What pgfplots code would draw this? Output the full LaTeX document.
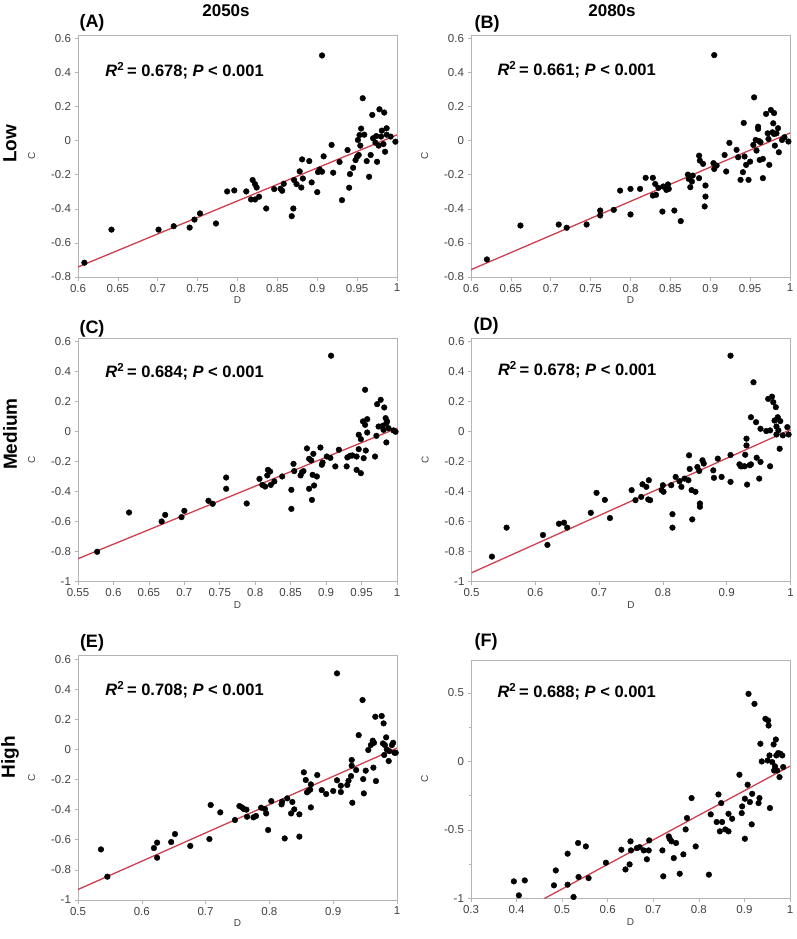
\documentclass[border=0pt]{standalone}
\usepackage{fontspec}
\setmainfont{Liberation Sans}
\usepackage{pgfplots}
\pgfplotsset{compat=1.18}
\definecolor{fitred}{RGB}{208,62,78}
\definecolor{axgray}{RGB}{180,180,180}
\definecolor{txtgray}{RGB}{65,65,65}
\pgfplotsset{
  panel/.style={
    scale only axis, width=319pt,
    axis line style={draw=axgray, line width=0.8pt},
    tick style={draw=axgray, line width=0.6pt},
    tick align=outside, major tick length=3.5pt, minor tick length=2pt,
    xtick pos=bottom, ytick pos=left,
    ticklabel style={font=\fontsize{11.5}{13}\selectfont, text=txtgray},
    /pgf/number format/assume math mode=true,
    xlabel={D}, ylabel={C},
    xlabel style={font=\fontsize{10}{12}\selectfont, text=txtgray, yshift=2pt},
    every axis y label/.style={at={(axis description cs:-0.145,0.5)}, rotate=90, anchor=center, font=\fontsize{10}{12}\selectfont, text=txtgray},
  },
  dots/.style={only marks, mark=*, mark size=2.85pt, draw=black, fill=black},
  fit/.style={no marks, draw=fitred, line width=1.3pt},
}
\newcommand{\rtext}[1]{\fontsize{16.5}{18}\selectfont\bfseries\textit{R}\textsuperscript{2}\,= #1; \textit{P} < 0.001}
\begin{document}
\begin{tikzpicture}
\useasboundingbox (0pt,0pt) rectangle (797pt,-939pt);
% titles
\node[font=\fontsize{17}{19}\selectfont\bfseries] at (226pt,-11pt) {2050s};
\node[font=\fontsize{17}{19}\selectfont\bfseries] at (612pt,-11pt) {2080s};
\node[font=\fontsize{19}{21}\selectfont\bfseries, rotate=90] at (10pt,-144pt) {Low};
\node[font=\fontsize{19}{21}\selectfont\bfseries, rotate=90] at (10pt,-434pt) {Medium};
\node[font=\fontsize{19}{21}\selectfont\bfseries, rotate=90] at (10pt,-757pt) {High};
\node[font=\fontsize{18}{20}\selectfont\bfseries] at (92pt,-23pt) {(A)};
\node[font=\fontsize{18}{20}\selectfont\bfseries] at (487pt,-24pt) {(B)};
\node[font=\fontsize{18}{20}\selectfont\bfseries] at (92pt,-329pt) {(C)};
\node[font=\fontsize{18}{20}\selectfont\bfseries] at (486pt,-326pt) {(D)};
\node[font=\fontsize{18}{20}\selectfont\bfseries] at (92pt,-643pt) {(E)};
\node[font=\fontsize{18}{20}\selectfont\bfseries] at (486pt,-642pt) {(F)};

% (A)
\begin{axis}[panel, at={(78pt,-35pt)}, anchor=north west, height=242pt,
  xmin=0.6, xmax=1, ymin=-0.8, ymax=0.62,
  xtick={0.6,0.65,0.7,0.75,0.8,0.85,0.9,0.95,1},
  ytick={-0.8,-0.6,-0.4,-0.2,0,0.2,0.4,0.6}]
\addplot[fit] coordinates {(0.6,-0.741) (1,0.034)};
\addplot[dots] coordinates {
(0.608,-0.716) (0.642,-0.522) (0.701,-0.522) (0.720,-0.502) (0.740,-0.510)
(0.746,-0.463) (0.753,-0.427) (0.773,-0.486) (0.787,-0.298) (0.796,-0.292)
(0.811,-0.298) (0.817,-0.345) (0.819,-0.231) (0.822,-0.345) (0.822,-0.255)
(0.824,-0.275) (0.827,-0.329) (0.836,-0.398) (0.846,-0.284) (0.854,-0.282)
(0.856,-0.294) (0.858,-0.253) (0.868,-0.443) (0.870,-0.398) (0.871,-0.231)
(0.874,-0.255) (0.878,-0.180) (0.880,-0.275) (0.881,-0.110) (0.882,-0.222)
(0.890,-0.120) (0.893,-0.245) (0.900,-0.302) (0.901,-0.184) (0.903,-0.169)
(0.906,-0.182) (0.906,0.500) (0.908,-0.092) (0.918,-0.025) (0.920,-0.188)
(0.928,-0.125) (0.931,-0.349) (0.938,-0.055) (0.940,-0.276) (0.941,-0.196)
(0.945,-0.159) (0.948,-0.114) (0.950,-0.094) (0.951,0.004) (0.952,-0.084)
(0.953,0.033) (0.954,-0.029) (0.955,0.071) (0.957,0.249) (0.959,0.035)
(0.962,-0.120) (0.965,-0.212) (0.967,-0.084) (0.969,0.151) (0.970,0.014)
(0.973,-0.012) (0.974,0.027) (0.975,-0.124) (0.977,-0.029) (0.978,0.184)
(0.980,0.024) (0.981,0.059) (0.983,-0.020) (0.984,0.165) (0.985,-0.065)
(0.987,0.073) (0.987,0.035) (0.992,0.024) (0.998,-0.006)
};
\node[anchor=west] at (rel axis cs:0.075,0.851) {\rtext{0.678}};
\end{axis}

% (B)
\begin{axis}[panel, at={(471pt,-35pt)}, anchor=north west, height=242pt,
  xmin=0.6, xmax=1, ymin=-0.8, ymax=0.62,
  xtick={0.6,0.65,0.7,0.75,0.8,0.85,0.9,0.95,1},
  ytick={-0.8,-0.6,-0.4,-0.2,0,0.2,0.4,0.6}]
\addplot[fit] coordinates {(0.6,-0.757) (1,0.045)};
\addplot[dots] coordinates {
(0.620,-0.697) (0.662,-0.498) (0.710,-0.492) (0.720,-0.511) (0.745,-0.492)
(0.762,-0.410) (0.762,-0.439) (0.779,-0.406) (0.787,-0.293) (0.800,-0.283)
(0.800,-0.433) (0.812,-0.283) (0.819,-0.218) (0.828,-0.218) (0.828,-0.322)
(0.831,-0.254) (0.832,-0.318) (0.835,-0.277) (0.840,-0.416) (0.841,-0.269)
(0.845,-0.289) (0.847,-0.257) (0.848,-0.283) (0.855,-0.410) (0.863,-0.472)
(0.872,-0.199) (0.873,-0.224) (0.875,-0.273) (0.877,-0.240) (0.878,-0.205)
(0.886,-0.088) (0.887,-0.117) (0.886,-0.220) (0.891,-0.136) (0.893,-0.386)
(0.894,-0.328) (0.894,-0.263) (0.905,0.502) (0.904,-0.132) (0.905,-0.166)
(0.908,-0.146) (0.918,-0.084) (0.920,-0.181) (0.924,-0.013) (0.933,-0.054)
(0.935,-0.097) (0.938,-0.230) (0.941,-0.185) (0.942,0.104) (0.943,-0.093)
(0.945,-0.142) (0.948,-0.230) (0.950,-0.123) (0.954,-0.025) (0.955,0.254)
(0.957,0.004) (0.958,-0.058) (0.960,0.082) (0.960,0.069) (0.961,-0.002)
(0.962,-0.113) (0.963,-0.009) (0.966,-0.107) (0.966,-0.220) (0.970,0.157)
(0.972,0.043) (0.973,0.010) (0.974,-0.142) (0.976,0.180) (0.978,0.049)
(0.979,0.102) (0.980,0.162) (0.980,0.039) (0.981,-0.029) (0.983,0.043)
(0.985,0.073) (0.986,-0.068) (0.990,0.004) (0.993,0.020) (0.998,-0.005)
};
\node[anchor=west] at (rel axis cs:0.072,0.855) {\rtext{0.661}};
\end{axis}

% (C)
\begin{axis}[panel, at={(78pt,-338pt)}, anchor=north west, height=243.5pt,
  xmin=0.55, xmax=1, ymin=-1, ymax=0.623,
  xtick={0.55,0.6,0.65,0.7,0.75,0.8,0.85,0.9,0.95,1},
  ytick={-1,-0.8,-0.6,-0.4,-0.2,0,0.2,0.4,0.6}]
\addplot[fit] coordinates {(0.55,-0.848) (1,0.022)};
\addplot[dots] coordinates {
(0.577,-0.802) (0.622,-0.540) (0.668,-0.600) (0.673,-0.556) (0.696,-0.571)
(0.700,-0.529) (0.734,-0.462) (0.740,-0.482) (0.759,-0.307) (0.759,-0.382)
(0.788,-0.480) (0.806,-0.316) (0.810,-0.356) (0.814,-0.367) (0.817,-0.293)
(0.818,-0.256) (0.821,-0.267) (0.822,-0.356) (0.827,-0.333) (0.838,-0.300)
(0.851,-0.389) (0.851,-0.516) (0.854,-0.216) (0.855,-0.264) (0.864,-0.293)
(0.866,-0.271) (0.868,-0.264) (0.873,-0.113) (0.876,-0.382) (0.876,-0.182)
(0.879,-0.193) (0.880,-0.456) (0.881,-0.289) (0.882,-0.149) (0.883,-0.360)
(0.887,-0.300) (0.892,-0.107) (0.894,-0.222) (0.895,-0.207) (0.901,-0.167)
(0.907,0.505) (0.906,-0.176) (0.913,-0.233) (0.918,-0.122) (0.929,-0.233)
(0.930,-0.173) (0.934,-0.162) (0.937,-0.160) (0.943,-0.167) (0.943,-0.256)
(0.946,-0.022) (0.946,-0.118) (0.949,-0.278) (0.949,-0.051) (0.952,0.067)
(0.953,-0.178) (0.955,0.278) (0.955,0.044) (0.956,-0.127) (0.958,0.082)
(0.958,-0.007) (0.969,-0.167) (0.971,-0.029) (0.972,0.182) (0.974,0.033)
(0.977,0.211) (0.980,0.038) (0.981,0.011) (0.982,0.160) (0.984,0.089)
(0.985,0.056) (0.985,-0.073) (0.986,0.067) (0.988,0.022) (0.995,0.007)
(0.998,-0.002)
};
\node[anchor=west] at (rel axis cs:0.075,0.862) {\rtext{0.684}};
\end{axis}

% (D)
\begin{axis}[panel, at={(471.5pt,-338pt)}, anchor=north west, height=243.5pt,
  xmin=0.5, xmax=1, ymin=-1, ymax=0.623,
  xtick={0.5,0.6,0.7,0.8,0.9,1},
  ytick={-1,-0.8,-0.6,-0.4,-0.2,0,0.2,0.4,0.6}]
\addplot[fit] coordinates {(0.5,-0.942) (1,0.012)};
\addplot[dots] coordinates {
(0.532,-0.834) (0.555,-0.641) (0.612,-0.690) (0.619,-0.756) (0.637,-0.615)
(0.645,-0.608) (0.650,-0.641) (0.687,-0.542) (0.696,-0.409) (0.709,-0.456)
(0.717,-0.577) (0.751,-0.391) (0.757,-0.458) (0.766,-0.436) (0.768,-0.352)
(0.774,-0.369) (0.777,-0.453) (0.778,-0.325) (0.780,-0.458) (0.798,-0.391)
(0.800,-0.358) (0.801,-0.402) (0.813,-0.358) (0.815,-0.551) (0.815,-0.641)
(0.820,-0.303) (0.826,-0.332) (0.829,-0.369) (0.834,-0.314) (0.840,-0.325)
(0.841,-0.159) (0.842,-0.250) (0.845,-0.391) (0.846,-0.586) (0.851,-0.402)
(0.854,-0.237) (0.857,-0.263) (0.858,-0.480) (0.858,-0.502) (0.862,-0.192)
(0.864,-0.214) (0.879,-0.259) (0.880,-0.309) (0.886,-0.181) (0.892,-0.303)
(0.906,0.505) (0.906,-0.157) (0.906,-0.336) (0.920,-0.219) (0.922,-0.232)
(0.924,-0.232) (0.928,-0.232) (0.929,-0.155) (0.931,-0.048) (0.931,-0.093)
(0.932,-0.354) (0.936,-0.225) (0.938,-0.219) (0.938,0.095) (0.942,0.328)
(0.946,0.062) (0.947,-0.175) (0.951,-0.314) (0.953,-0.203) (0.953,0.018)
(0.962,0.003) (0.965,0.217) (0.968,-0.232) (0.968,0.007) (0.971,0.232)
(0.973,0.195) (0.975,0.073) (0.977,0.162) (0.978,0.033) (0.978,-0.020)
(0.980,0.095) (0.981,0.007) (0.983,-0.115) (0.984,0.069) (0.988,-0.026)
(0.995,0.029) (0.997,-0.020)
};
\node[anchor=west] at (rel axis cs:0.072,0.870) {\rtext{0.678}};
\end{axis}

% (E)
\begin{axis}[panel, at={(78pt,-655pt)}, anchor=north west, height=245pt,
  xmin=0.5, xmax=1, ymin=-1, ymax=0.627,
  xtick={0.5,0.6,0.7,0.8,0.9,1},
  ytick={-1,-0.8,-0.6,-0.4,-0.2,0,0.2,0.4,0.6}]
\addplot[fit] coordinates {(0.5,-0.930) (1,0.009)};
\addplot[dots] coordinates {
(0.536,-0.664) (0.546,-0.845) (0.619,-0.655) (0.624,-0.619) (0.624,-0.719)
(0.646,-0.615) (0.652,-0.562) (0.676,-0.641) (0.706,-0.595) (0.708,-0.369)
(0.723,-0.418) (0.746,-0.469) (0.753,-0.376) (0.757,-0.385) (0.760,-0.396)
(0.764,-0.400) (0.765,-0.447) (0.775,-0.451) (0.779,-0.442) (0.787,-0.387)
(0.793,-0.396) (0.795,-0.425) (0.798,-0.535) (0.803,-0.343) (0.819,-0.365)
(0.820,-0.347) (0.824,-0.591) (0.828,-0.325) (0.834,-0.425) (0.836,-0.349)
(0.839,-0.398) (0.847,-0.431) (0.847,-0.579) (0.854,-0.152) (0.857,-0.203)
(0.859,-0.285) (0.861,-0.276) (0.864,-0.267) (0.865,-0.232) (0.865,-0.385)
(0.875,-0.170) (0.882,-0.270) (0.889,-0.296) (0.900,-0.276) (0.906,0.505)
(0.906,-0.205) (0.912,-0.241) (0.912,-0.283) (0.922,-0.236) (0.924,-0.208)
(0.928,-0.177) (0.929,-0.108) (0.929,-0.070) (0.930,-0.354) (0.936,-0.137)
(0.940,0.095) (0.946,0.328) (0.947,-0.197) (0.948,-0.292) (0.951,-0.141)
(0.955,-0.004) (0.959,0.029) (0.962,0.058) (0.963,-0.121) (0.964,0.044)
(0.966,0.217) (0.967,-0.210) (0.976,0.222) (0.978,0.040) (0.979,0.173)
(0.980,-0.037) (0.981,0.029) (0.983,0.080) (0.984,0.000) (0.987,-0.077)
(0.988,-0.011) (0.992,0.029) (0.994,0.044) (0.996,-0.022) (0.998,-0.022)
};
\node[anchor=west] at (rel axis cs:0.075,0.857) {\rtext{0.708}};
\end{axis}

% (F)
\begin{axis}[panel, at={(471pt,-660pt)}, anchor=north west, height=238.5pt,
  xmin=0.3, xmax=1, ymin=-1, ymax=0.74,
  xtick={0.3,0.4,0.5,0.6,0.7,0.8,0.9,1},
  ytick={-1,-0.5,0,0.5}, minor ytick={-0.75,-0.25,0.25}]
\addplot[fit] coordinates {(0.461,-1) (1,-0.034)};
\addplot[dots] coordinates {
(0.394,-0.875) (0.405,-0.977) (0.418,-0.868) (0.482,-0.904) (0.486,-0.795)
(0.512,-0.899) (0.512,-0.673) (0.525,-0.989) (0.535,-0.595) (0.536,-0.843)
(0.552,-0.620) (0.558,-0.851) (0.596,-0.739) (0.630,-0.644) (0.639,-0.788)
(0.648,-0.751) (0.650,-0.583) (0.651,-0.649) (0.664,-0.632) (0.670,-0.625)
(0.679,-0.649) (0.686,-0.714) (0.690,-0.649) (0.691,-0.576) (0.720,-0.649)
(0.722,-0.838) (0.734,-0.547) (0.736,-0.564) (0.740,-0.583) (0.745,-0.705)
(0.750,-0.595) (0.758,-0.819) (0.766,-0.678) (0.771,-0.496) (0.774,-0.413)
(0.784,-0.267) (0.793,-0.620) (0.822,-0.826) (0.826,-0.386) (0.839,-0.442)
(0.843,-0.241) (0.846,-0.510) (0.849,-0.304) (0.851,-0.442) (0.858,-0.496)
(0.865,-0.510) (0.865,-0.382) (0.873,-0.418) (0.889,-0.097) (0.894,-0.377)
(0.895,-0.328) (0.901,-0.564) (0.901,-0.272) (0.907,-0.170) (0.909,0.493)
(0.912,-0.296) (0.916,-0.459) (0.917,-0.236) (0.922,0.420) (0.931,-0.304)
(0.933,-0.267) (0.935,0.129) (0.938,0.000) (0.946,0.311) (0.951,0.007)
(0.952,0.299) (0.953,0.262) (0.955,0.044) (0.956,-0.340) (0.961,-0.005)
(0.964,0.124) (0.965,-0.066) (0.967,-0.036) (0.969,0.160) (0.970,0.044)
(0.972,-0.066) (0.974,0.061) (0.977,-0.114) (0.979,0.056) (0.983,0.044)
(0.985,-0.041)
};
\node[anchor=west] at (rel axis cs:0.072,0.866) {\rtext{0.688}};
\end{axis}
\end{tikzpicture}
\end{document}
